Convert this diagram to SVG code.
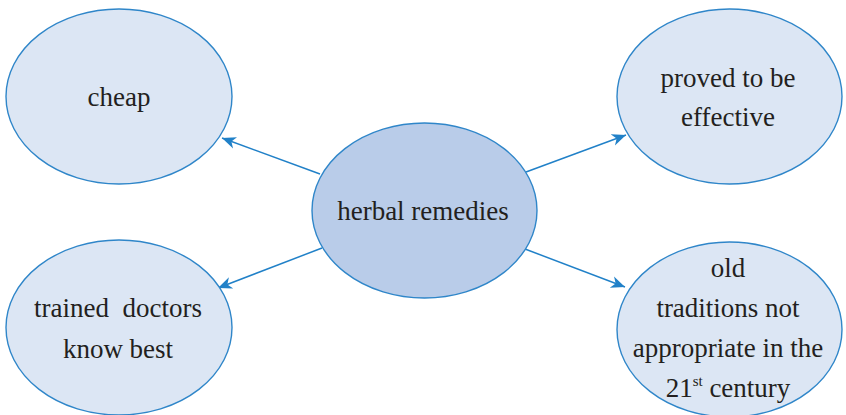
<svg xmlns="http://www.w3.org/2000/svg" width="846" height="415" viewBox="0 0 846 415">
<style>
.outer{fill:#dce6f4;stroke:#2f86c9;stroke-width:1.4}
.center{fill:#b9cce9;stroke:#2f86c9;stroke-width:1.4}
.lbl{font-family:"Liberation Serif","Times New Roman",serif;font-size:27px;fill:#231f20;text-anchor:middle}
.con{stroke:#2181c8;stroke-width:1.5;fill:none;marker-end:url(#ah)}
</style>
<defs>
<marker id="ah" markerUnits="userSpaceOnUse" markerWidth="16" markerHeight="14" refX="14" refY="7" orient="auto">
<path d="M0,1 L14,7 L0,13 L4,7 Z" fill="#2181c8"/>
</marker>
</defs>
<rect width="846" height="415" fill="#ffffff"/>
<g id="connectors">
<line class="con" x1="320" y1="174" x2="222" y2="138"/>
<line class="con" x1="322" y1="248" x2="218" y2="288"/>
<line class="con" x1="526" y1="172" x2="626" y2="135"/>
<line class="con" x1="525" y1="249" x2="625" y2="287"/>
</g>
<g id="cheap">
<ellipse class="outer" cx="119" cy="96.5" rx="113" ry="87.5"/>
<text class="lbl" x="119" y="106">cheap</text>
</g>
<g id="trained-doctors">
<ellipse class="outer" cx="119" cy="327.5" rx="113" ry="87.5"/>
<text class="lbl" x="118" y="317" xml:space="preserve">trained  doctors</text>
<text class="lbl" x="118" y="358">know best</text>
</g>
<g id="proved-effective">
<ellipse class="outer" cx="729.5" cy="96.5" rx="112.5" ry="87.5"/>
<text class="lbl" x="728" y="87">proved to be</text>
<text class="lbl" x="728" y="126">effective</text>
</g>
<g id="old-traditions">
<ellipse class="outer" cx="729.5" cy="329.5" rx="112.5" ry="87.5"/>
<text class="lbl" x="728" y="277">old</text>
<text class="lbl" x="728" y="317">traditions not</text>
<text class="lbl" x="728" y="357">appropriate in the</text>
<text class="lbl" x="728" y="397">21<tspan font-size="15" dy="-11">st</tspan><tspan dy="11"> century</tspan></text>
</g>
<g id="herbal-remedies">
<ellipse class="center" cx="424.5" cy="210.5" rx="112.5" ry="87.5"/>
<text class="lbl" x="423" y="220">herbal remedies</text>
</g>
</svg>
